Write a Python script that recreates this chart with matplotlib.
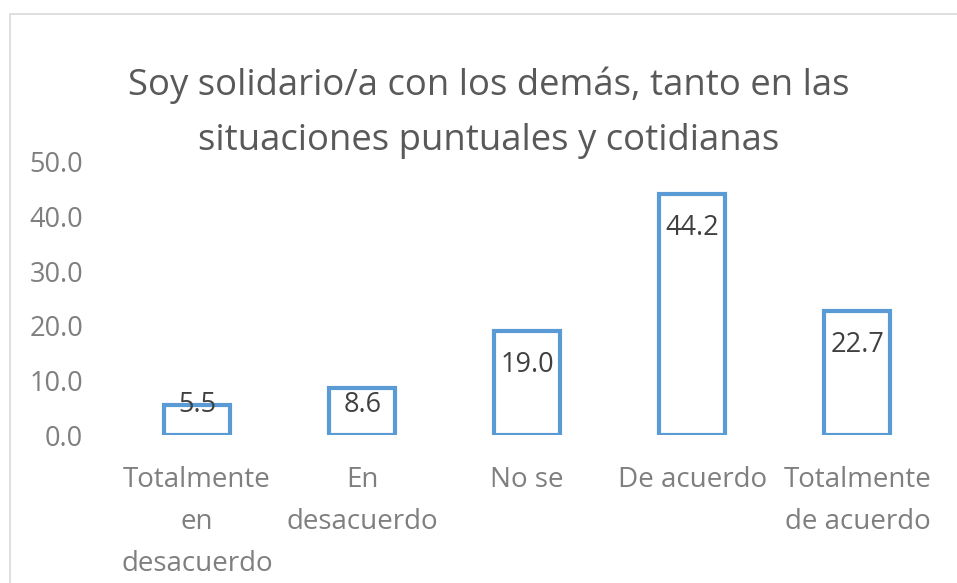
import matplotlib
matplotlib.use("Agg")
import matplotlib.pyplot as plt
from matplotlib.patches import Rectangle

categories = ["Totalmente\nen\ndesacuerdo", "En\ndesacuerdo", "No se", "De acuerdo",
              "Totalmente\nde acuerdo"]
values = [5.5, 8.6, 19.0, 44.2, 22.7]
y_ticks = [0, 10, 20, 30, 40, 50]
title = "Soy solidario/a con los demás, tanto en las\nsituaciones puntuales y cotidianas"

plt.rcParams["font.family"] = ["Open Sans", "DejaVu Sans"]

fig = plt.figure(figsize=(9.57, 5.83), dpi=100)
fig.patch.set_facecolor("white")

# chart-area frame (open to the right and bottom)
fig.patches.append(Rectangle((10 / 957, -0.1), 1.2, 1.1 - 14 / 583,
                             transform=fig.transFigure, fill=False,
                             edgecolor="#d9d9d9", linewidth=1.2))

ax = fig.add_axes([114.5 / 957, 1 - 435 / 583, (940 - 114.5) / 957, (435 - 162) / 583])
x = range(len(values))
ax.bar(x, values, width=0.4, facecolor="white", edgecolor="#5b9bd5", linewidth=3)
ax.set_xlim(-0.5, len(values) - 0.5)
ax.set_ylim(0, 50)
ax.set_yticks(y_ticks)
ax.set_yticklabels([f"{v:.1f}" for v in y_ticks])
ax.set_xticks(list(x))
ax.set_xticklabels(categories, linespacing=1.65)
ax.tick_params(axis="y", length=0, pad=22.7, labelsize=19.5, labelcolor="#7f7f7f")
ax.tick_params(axis="x", length=0, pad=22.5, labelsize=20, labelcolor="#7f7f7f")
for s in ax.spines.values():
    s.set_visible(False)

for xi, v in zip(x, values):
    ax.text(xi, max(v - 6.2, 5.5), f"{v:.1f}", ha="center", va="center",
            fontsize=19.5, color="#404040")

fig.text(489 / 957, 1 - 112.5 / 583, title, ha="center", va="center",
         fontsize=26.3, color="#595959", linespacing=1.72)

fig.savefig("out.png", dpi=100, facecolor="white")
